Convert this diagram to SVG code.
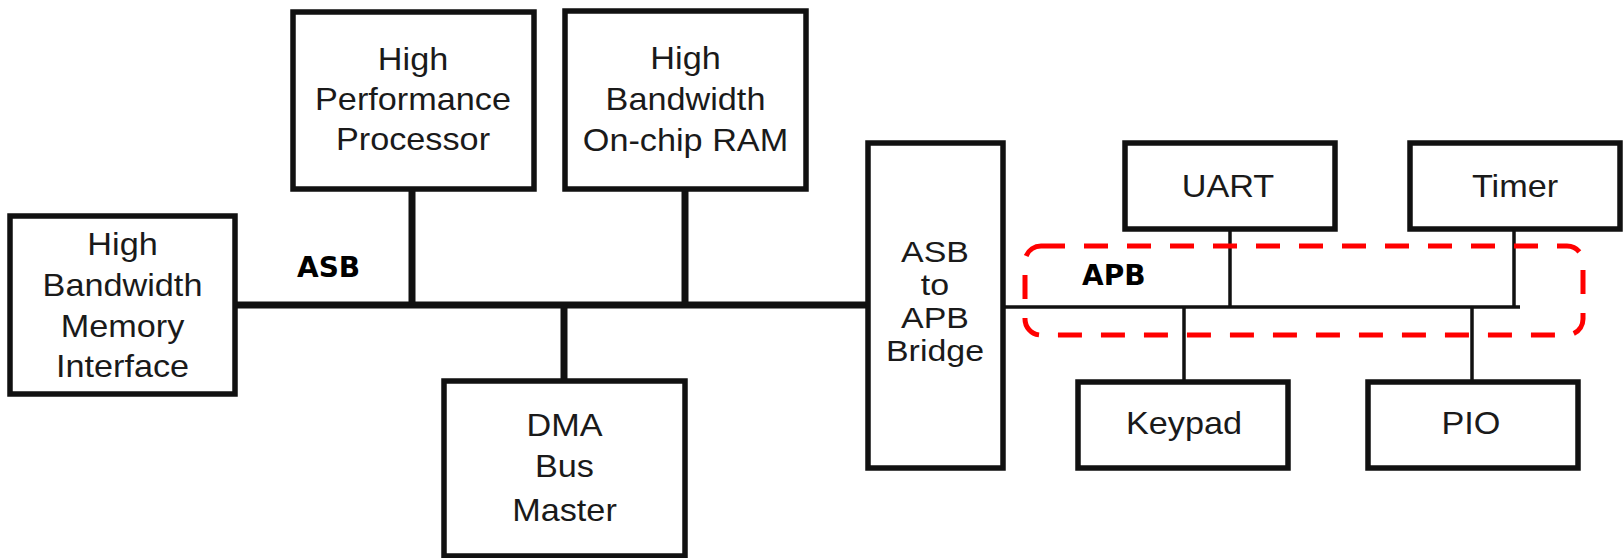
<svg xmlns="http://www.w3.org/2000/svg" width="1623" height="558" viewBox="0 0 1623 558">
<style>
.box{fill:#fff;stroke:#111;stroke-width:5.5}
.t{font-family:"Liberation Sans",Arial,sans-serif;font-size:32px;fill:#1a1a1a;text-anchor:middle}
.tb{font-family:"Liberation Sans",Arial,sans-serif;font-size:29.5px;fill:#1a1a1a;text-anchor:middle}
.lbl{font-family:"DejaVu Sans",Verdana,sans-serif;font-weight:bold;font-size:28px;fill:#000}
.bus{stroke:#111;stroke-width:7;fill:none}
.pbus{stroke:#111;stroke-width:3.5;fill:none}
</style>
<rect width="1623" height="558" fill="#fff"/>
<g id="connectors">
  <line class="bus" x1="235" y1="305" x2="868" y2="305"/>
  <line class="bus" x1="412" y1="189" x2="412" y2="305"/>
  <line class="bus" x1="685" y1="189" x2="685" y2="305"/>
  <line class="bus" x1="564" y1="305" x2="564" y2="381"/>
  <line class="pbus" x1="1003" y1="307" x2="1520" y2="307"/>
  <line class="pbus" x1="1230" y1="229" x2="1230" y2="307"/>
  <line class="pbus" x1="1514" y1="229" x2="1514" y2="307"/>
  <line class="pbus" x1="1184" y1="307" x2="1184" y2="382"/>
  <line class="pbus" x1="1472" y1="307" x2="1472" y2="382"/>
</g>
<g id="memory">
  <rect class="box" x="10" y="216" width="225" height="178"/>
  <g transform="translate(122.5,0) scale(1.07,1)">
    <text class="t" x="0" y="255">High</text>
    <text class="t" x="0" y="296">Bandwidth</text>
    <text class="t" x="0" y="337">Memory</text>
    <text class="t" x="0" y="377">Interface</text>
  </g>
</g>
<g id="processor">
  <rect class="box" x="293" y="12" width="241" height="177"/>
  <g transform="translate(413,0) scale(1.07,1)">
    <text class="t" x="0" y="70">High</text>
    <text class="t" x="0" y="110">Performance</text>
    <text class="t" x="0" y="150">Processor</text>
  </g>
</g>
<g id="ram">
  <rect class="box" x="565" y="11" width="241" height="178"/>
  <g transform="translate(685.5,0) scale(1.07,1)">
    <text class="t" x="0" y="69">High</text>
    <text class="t" x="0" y="110">Bandwidth</text>
    <text class="t" x="0" y="151">On-chip RAM</text>
  </g>
</g>
<g id="dma">
  <rect class="box" x="444" y="381" width="241" height="175"/>
  <g transform="translate(564.5,0) scale(1.07,1)">
    <text class="t" x="0" y="436">DMA</text>
    <text class="t" x="0" y="477">Bus</text>
    <text class="t" x="0" y="521">Master</text>
  </g>
</g>
<g id="bridge">
  <rect class="box" x="868" y="143" width="135" height="325"/>
  <g transform="translate(935,0) scale(1.15,1)">
    <text class="tb" x="0" y="262">ASB</text>
    <text class="tb" x="0" y="295">to</text>
    <text class="tb" x="0" y="328">APB</text>
    <text class="tb" x="0" y="361">Bridge</text>
  </g>
</g>
<g id="uart">
  <rect class="box" x="1125" y="143" width="210" height="86"/>
  <g transform="translate(1228,0) scale(1.07,1)"><text class="t" x="0" y="197">UART</text></g>
</g>
<g id="timer">
  <rect class="box" x="1410" y="143" width="210" height="86"/>
  <g transform="translate(1515,0) scale(1.07,1)"><text class="t" x="0" y="197">Timer</text></g>
</g>
<g id="keypad">
  <rect class="box" x="1078" y="382" width="210" height="86"/>
  <g transform="translate(1184,0) scale(1.07,1)"><text class="t" x="0" y="434">Keypad</text></g>
</g>
<g id="pio">
  <rect class="box" x="1368" y="382" width="210" height="86"/>
  <g transform="translate(1471,0) scale(1.07,1)"><text class="t" x="0" y="434">PIO</text></g>
</g>
<g id="apb-region">
  <rect x="1025" y="246" width="558" height="89" rx="16" ry="16" fill="none" stroke="#f00" stroke-width="5" stroke-dasharray="24 19"/>
</g>
<g id="labels">
  <text class="lbl" x="297" y="277">ASB</text>
  <text class="lbl" x="1082" y="285">APB</text>
</g>
</svg>
